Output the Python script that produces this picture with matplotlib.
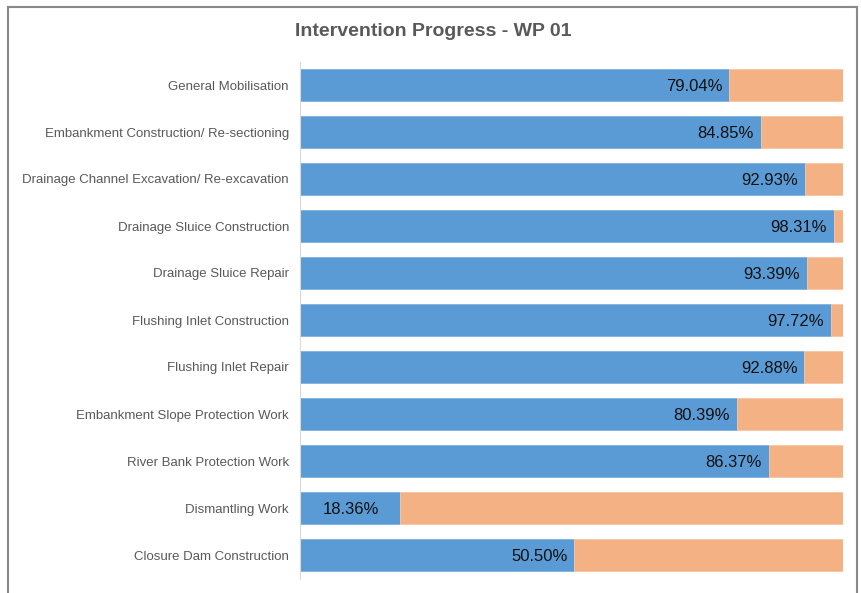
import matplotlib
matplotlib.use("Agg")
import matplotlib.pyplot as plt
from matplotlib.lines import Line2D
import numpy as np

plt.rcParams['font.family'] = ['Liberation Sans', 'DejaVu Sans']

categories = [
    "General Mobilisation",
    "Embankment Construction/ Re-sectioning",
    "Drainage Channel Excavation/ Re-excavation",
    "Drainage Sluice Construction",
    "Drainage Sluice Repair",
    "Flushing Inlet Construction",
    "Flushing Inlet Repair",
    "Embankment Slope Protection Work",
    "River Bank Protection Work",
    "Dismantling Work",
    "Closure Dam Construction",
]
progress = [79.04, 84.85, 92.93, 98.31, 93.39, 97.72, 92.88, 80.39, 86.37, 18.36, 50.50]
remaining = [100 - p for p in progress]

blue = "#5B9BD5"
orange = "#F4B183"
grey = "#595959"

W, H = 862, 593
fig = plt.figure(figsize=(W / 100, H / 100), dpi=100)
ax = fig.add_axes([300 / W, 1 - 578.5 / H, (843 - 300) / W, (578.5 - 61.5) / H])

y = np.arange(len(categories))
ax.barh(y, progress, height=0.66, color=blue, edgecolor="#7FB1DE", linewidth=0.6)
ax.barh(y, remaining, left=progress, height=0.66, color=orange, edgecolor="#F7C6A3", linewidth=0.6)

for yi, p in zip(y, progress):
    if p < 30:
        ax.annotate("%.2f%%" % p, (p / 2, yi), xytext=(1, -1), textcoords="offset points",
                    ha="center", va="center", fontsize=12, color="#111111")
    else:
        ax.annotate("%.2f%%" % p, (p, yi), xytext=(-5, -1), textcoords="offset points",
                    ha="right", va="center", fontsize=12, color="#111111")

ax.set_xlim(0, 100)
ax.set_ylim(len(categories) - 0.5, -0.5)
ax.set_yticks(y)
ax.set_yticklabels(categories, fontsize=9.5, color=grey)
ax.tick_params(axis="y", length=0, pad=8)
ax.set_xticks([])
for s in ["top", "right", "bottom"]:
    ax.spines[s].set_visible(False)
ax.spines["left"].set_color("#D9D9D9")

fig.text(433 / W, 1 - 32 / H, "Intervention Progress - WP 01", ha="center", va="center",
         fontsize=14, fontweight="bold", color=grey)

# chart border (left, top, right)
bc = "#898989"
fig.add_artist(Line2D([8.5 / W, 8.5 / W], [0, 1 - 6.5 / H], transform=fig.transFigure, color=bc, lw=1.5))
fig.add_artist(Line2D([8.5 / W, 857 / W], [1 - 6.5 / H, 1 - 6.5 / H], transform=fig.transFigure, color=bc, lw=1.5))
fig.add_artist(Line2D([857 / W, 857 / W], [0, 1 - 6.5 / H], transform=fig.transFigure, color=bc, lw=1.5))

fig.savefig("out.png", dpi=100)
